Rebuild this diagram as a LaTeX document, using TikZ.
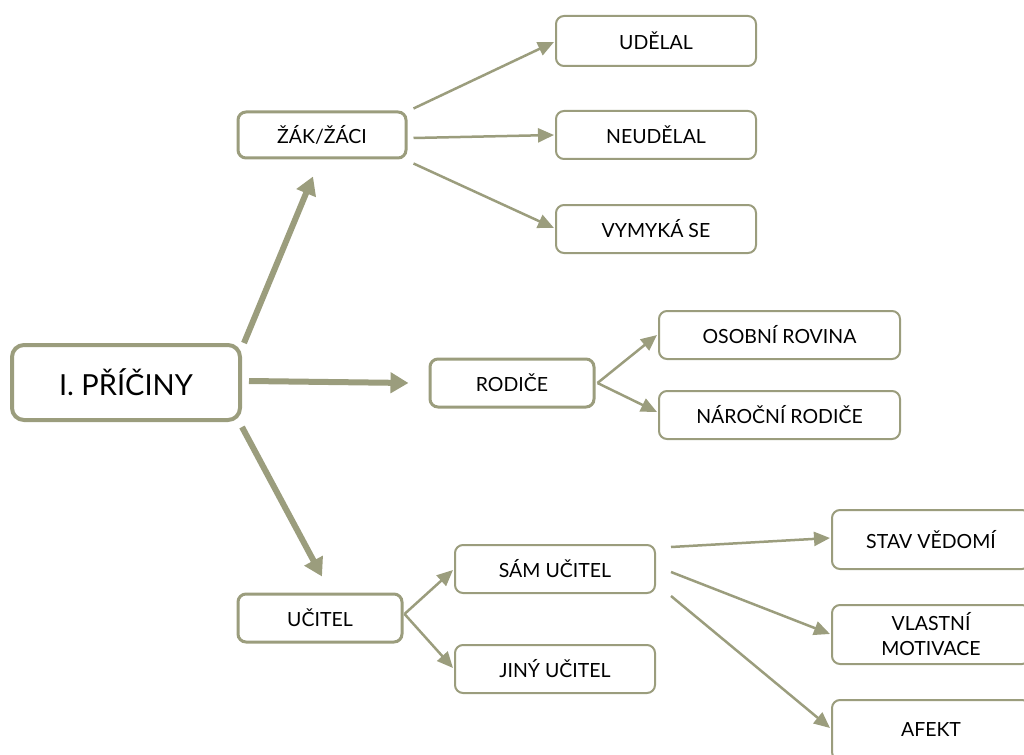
\documentclass[tikz,border=0pt]{standalone}
\usepackage{fontspec}
\setmainfont{Lato}
\usetikzlibrary{arrows.meta}
\definecolor{olive}{RGB}{155,157,125}
\tikzset{
  box/.style={draw=olive, line width=2pt, rounded corners=8pt, fill=white, inner sep=0pt,
    align=center, font=\fontsize{19.5}{25}\selectfont, text=black},
  midbox/.style={box, line width=3pt},
  mainbox/.style={box, line width=4pt, rounded corners=12pt, font=\fontsize{29}{32}\selectfont},
  thin/.style={draw=olive, line width=2.5pt, -{Triangle[length=16pt,width=14pt]}},
  thick/.style={draw=olive, line width=6pt, -{Triangle[length=18pt,width=20pt]}},
}
\begin{document}
\begin{tikzpicture}[x=1pt,y=-1pt]
\useasboundingbox (0,0) rectangle (1024,754);
\clip (0,0) rectangle (1024,754);
% nodes
\node[mainbox, minimum width=228pt, minimum height=75pt] (main) at (126,382.5) {I. PŘÍČINY};
\node[midbox, minimum width=168pt, minimum height=46pt] (zak) at (322,135) {ŽÁK/ŽÁCI};
\node[box, minimum width=200pt, minimum height=50pt] (udelal) at (656,41) {UDĚLAL};
\node[box, minimum width=200pt, minimum height=48pt] (neudelal) at (656,135) {NEUDĚLAL};
\node[box, minimum width=200pt, minimum height=48pt] (vymyka) at (656,229) {VYMYKÁ SE};
\node[midbox, minimum width=164pt, minimum height=48pt] (rodice) at (512,383) {RODIČE};
\node[box, minimum width=241pt, minimum height=48pt] (osobni) at (779.5,335) {OSOBNÍ ROVINA};
\node[box, minimum width=241pt, minimum height=48pt] (narocni) at (779.5,415) {NÁROČNÍ RODIČE};
\node[midbox, minimum width=164pt, minimum height=48pt] (ucitel) at (320,618) {UČITEL};
\node[box, minimum width=200pt, minimum height=48pt] (sam) at (555,569) {SÁM UČITEL};
\node[box, minimum width=200pt, minimum height=48pt] (jiny) at (555,669) {JINÝ UČITEL};
\node[box, minimum width=198pt, minimum height=59pt] (stav) at (931,539.5) {STAV VĚDOMÍ};
\node[box, minimum width=198pt, minimum height=59pt] (vlastni) at (931,634.5) {VLASTNÍ\\MOTIVACE};
\node[box, minimum width=198pt, minimum height=60pt] (afekt) at (931,730) {AFEKT};
% thick connectors
\draw[thick] ([shift={(2,0)}]main.north east) -- ([shift={(-9,17)}]zak.south);
\draw[thick] ([shift={(7,-1.5)}]main.east) -- ([shift={(-20,0)}]rodice.west);
\draw[thick] ([shift={(0,5)}]main.south east) -- ([shift={(2,-16)}]ucitel.north);
% zak
\draw[thin] ([shift={(6,-2)}]zak.north east) -- ([shift={(-1,1)}]udelal.west);
\draw[thin] ([shift={(6,3)}]zak.east) -- ([shift={(-1,0)}]neudelal.west);
\draw[thin] ([shift={(6,4)}]zak.south east) -- ([shift={(-1,-1)}]vymyka.west);
% rodice
\draw[thin] ([shift={(2,0)}]rodice.east) -- ([shift={(-1,0)}]osobni.west);
\draw[thin] ([shift={(2,0)}]rodice.east) -- ([shift={(-1,-3)}]narocni.west);
% ucitel
\draw[thin] ([shift={(1,-4)}]ucitel.east) -- ([shift={(-1,1)}]sam.west);
\draw[thin] ([shift={(1,-4)}]ucitel.east) -- ([shift={(-1,-1)}]jiny.west);
% sam ucitel
\draw[thin] ([shift={(15,3)}]sam.north east) -- ([shift={(-1,-1.5)}]stav.west);
\draw[thin] ([shift={(15,3)}]sam.east) -- ([shift={(-1,-0.5)}]vlastni.west);
\draw[thin] ([shift={(15,2)}]sam.south east) -- ([shift={(-1,-2)}]afekt.west);
\end{tikzpicture}
\end{document}
